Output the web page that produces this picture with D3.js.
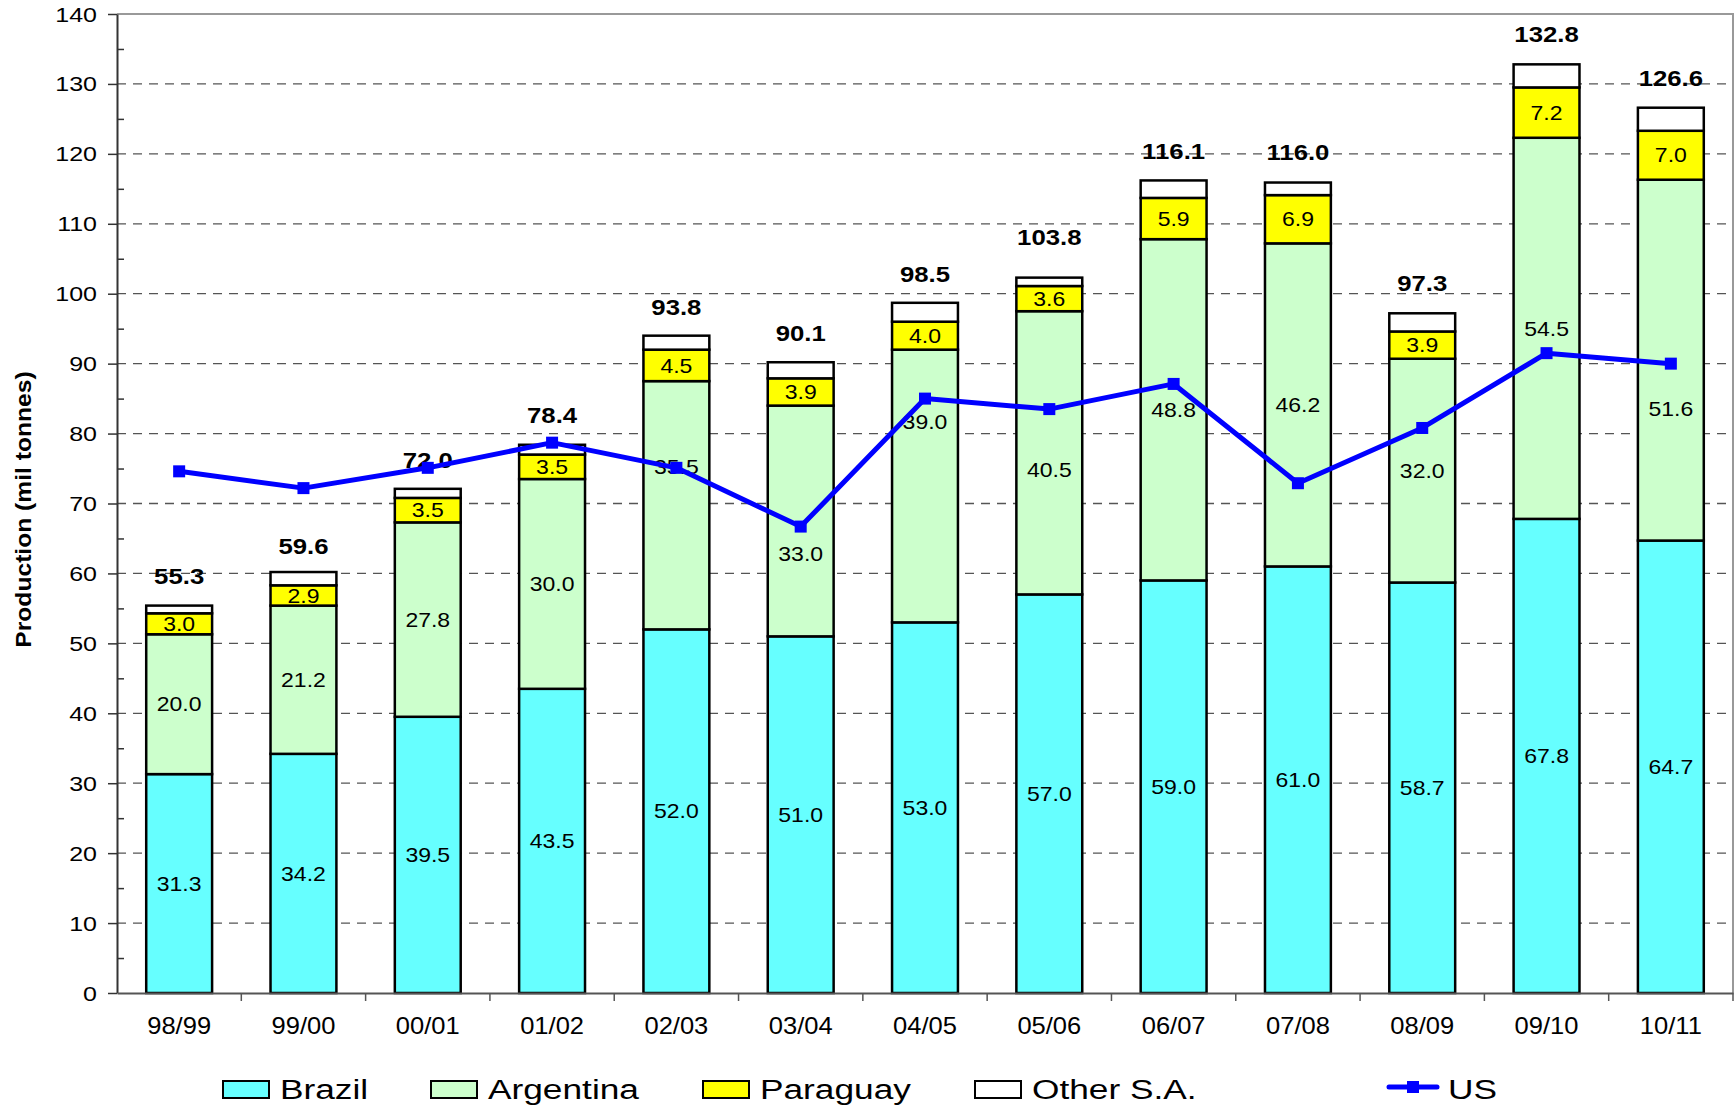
<!DOCTYPE html>
<html>
<head>
<meta charset="utf-8">
<script src="https://cdn.jsdelivr.net/npm/d3@7"></script>
<style>
  body { margin: 0; background: #fff; }
  text { font-family: "Liberation Sans", Arial, sans-serif; fill: #000; }
</style>
</head>
<body>
<script>

var seasons = ["98/99", "99/00", "00/01", "01/02", "02/03", "03/04", "04/05",
               "05/06", "06/07", "07/08", "08/09", "09/10", "10/11"],
    brazil    = [31.3, 34.2, 39.5, 43.5, 52.0, 51.0, 53.0, 57.0, 59.0, 61.0, 58.7, 67.8, 64.7],
    argentina = [20.0, 21.2, 27.8, 30.0, 35.5, 33.0, 39.0, 40.5, 48.8, 46.2, 32.0, 54.5, 51.6],
    paraguay  = [3.0, 2.9, 3.5, 3.5, 4.5, 3.9, 4.0, 3.6, 5.9, 6.9, 3.9, 7.2, 7.0],
    otherSA   = [1.1, 1.9, 1.3, 1.4, 2.0, 2.3, 2.7, 1.2, 2.5, 1.8, 2.6, 3.3, 3.3],
    totals    = [55.3, 59.6, 72.0, 78.4, 93.8, 90.1, 98.5, 103.8, 116.1, 116.0, 97.3, 132.8, 126.6],
    us        = [74.6, 72.2, 75.1, 78.7, 75.1, 66.7, 85.0, 83.5, 87.1, 72.9, 80.8, 91.5, 90.0],
    seriesNames = ["Brazil", "Argentina", "Paraguay", "Other S.A."],
    seriesColors = ["#66ffff", "#ccffcc", "#ffff00", "#ffffff"],
    yTicks = [0, 10, 20, 30, 40, 50, 60, 70, 80, 90, 100, 110, 120, 130, 140];

// some Argentina labels were moved by hand in the original (pixels, + = down)
var argNudge = [0, 0, 0, 0, -38, 33, -64, 17, 0, 0, 0, 0, 49];

var W = 1736, H = 1106,
    lPad = 117, rPad = 3, tPad = 14, bPad = 113,
    stretch = 1.17;   // the original text is wider than normal

var svg = d3.select("body").append("svg")
    .attr("width", W)
    .attr("height", H);

var xScale = d3.scaleBand().domain(seasons).range([lPad, W - rPad]).padding(0),
    yScale = d3.scaleLinear().domain([0, 140]).range([H - bPad, tPad]),
    barW = xScale.bandwidth() * 0.53;

function cx(d) { return xScale(d) + xScale.bandwidth() / 2; }

// rows for the stack
var rows = seasons.map(function(s, i) {
    return { season: s, "Brazil": brazil[i], "Argentina": argentina[i],
             "Paraguay": paraguay[i], "Other S.A.": otherSA[i] };
});
var stacked = d3.stack().keys(seriesNames)(rows);

// grid lines
svg.append("g").selectAll("line")
    .data(yTicks.filter(function(t) { return t > 0 && t < 140; }))
    .enter().append("line")
    .attr("x1", lPad).attr("x2", W - rPad)
    .attr("y1", function(d) { return yScale(d); })
    .attr("y2", function(d) { return yScale(d); })
    .style("stroke", "#555")
    .style("stroke-width", 1.3)
    .style("stroke-dasharray", "9,7");

// top and right border
svg.append("path")
    .attr("d", "M" + lPad + "," + yScale(140) + "H" + (W - rPad) + "V" + yScale(0))
    .style("fill", "none")
    .style("stroke", "#999")
    .style("stroke-width", 2);

// bars
var layer = svg.append("g").selectAll("g")
    .data(stacked)
    .enter().append("g")
    .style("fill", function(d, i) { return seriesColors[i]; });

layer.selectAll("rect")
    .data(function(d) { return d; })
    .enter().append("rect")
    .attr("x", function(d) { return cx(d.data.season) - barW / 2; })
    .attr("y", function(d) { return yScale(d[1]); })
    .attr("width", barW)
    .attr("height", function(d) { return yScale(d[0]) - yScale(d[1]); })
    .style("stroke", "#000")
    .style("stroke-width", 2.5);

// segment labels (Brazil, Argentina, Paraguay)
stacked.slice(0, 3).forEach(function(series, k) {
    svg.append("g").selectAll("text")
        .data(series)
        .enter().append("text")
        .attr("transform", function(d, i) {
            var nudge = k == 1 ? argNudge[i] : 0;
            return "translate(" + cx(d.data.season) + "," + (yScale((d[0] + d[1]) / 2) + 7.2 + nudge) + ") scale(1.15,1)";
        })
        .attr("text-anchor", "middle")
        .style("font-size", "20px")
        .text(function(d) { return (d[1] - d[0]).toFixed(1); });
});

// totals
svg.append("g").selectAll("text")
    .data(totals)
    .enter().append("text")
    .attr("transform", function(d, i) {
        return "translate(" + cx(seasons[i]) + "," + (yScale(d) - 22) + ") scale(" + stretch + ",1)";
    })
    .attr("text-anchor", "middle")
    .style("font-size", "22px")
    .style("font-weight", "bold")
    .text(function(d) { return d.toFixed(1); });

// y axis
var yAxis = d3.axisLeft(yScale).tickValues(yTicks).tickSize(9).tickSizeOuter(0);
var gy = svg.append("g")
    .attr("transform", "translate(" + lPad + ",0)")
    .call(yAxis);
gy.select(".domain").style("stroke", "#333").style("stroke-width", 2);
gy.selectAll(".tick line").style("stroke", "#333").style("stroke-width", 1.5);
gy.selectAll(".tick text")
    .attr("x", -20 / 1.25)
    .attr("dy", "0.35em")
    .attr("transform", "scale(1.25,1)")
    .style("font-size", "20px")
    .style("font-family", "'Liberation Sans', Arial, sans-serif");

// minor ticks inside
var gyMinor = svg.append("g")
    .attr("transform", "translate(" + lPad + ",0)")
    .call(d3.axisRight(yScale).tickValues(d3.range(5, 140, 10)).tickSize(7).tickFormat(""));
gyMinor.select(".domain").remove();
gyMinor.selectAll(".tick line").style("stroke", "#333").style("stroke-width", 1.5);

// x axis
var gx = svg.append("g")
    .attr("transform", "translate(0," + yScale(0) + ")")
    .call(d3.axisBottom(xScale).tickSize(0).tickSizeOuter(0).tickPadding(0));
gx.select(".domain").style("stroke", "#555").style("stroke-width", 2);
gx.selectAll(".tick text")
    .attr("y", 0)
    .attr("dy", 41)
    .attr("transform", "scale(1.11,1)")
    .attr("x", 0)
    .style("font-size", "23px")
    .style("font-family", "'Liberation Sans', Arial, sans-serif");

// category boundary ticks
gx.selectAll("line.bound")
    .data(seasons)
    .enter().append("line")
    .attr("class", "bound")
    .attr("x1", function(d) { return xScale(d) + xScale.step(); })
    .attr("x2", function(d) { return xScale(d) + xScale.step(); })
    .attr("y1", 0).attr("y2", 8)
    .style("stroke", "#555")
    .style("stroke-width", 1.5);

// y axis title
svg.append("text")
    .attr("transform", "translate(31," + ((tPad + H - bPad) / 2 + 6) + ") rotate(-90) scale(1.12,1)")
    .attr("text-anchor", "middle")
    .style("font-size", "22px")
    .style("font-weight", "bold")
    .text("Production (mil tonnes)");

// US line
var line = d3.line()
    .x(function(d, i) { return cx(seasons[i]); })
    .y(function(d) { return yScale(d); });

svg.append("path")
    .datum(us)
    .attr("d", line)
    .style("fill", "none")
    .style("stroke", "#0000ff")
    .style("stroke-width", 5)
    .style("stroke-linejoin", "round");

svg.append("g").selectAll("rect")
    .data(us)
    .enter().append("rect")
    .attr("x", function(d, i) { return cx(seasons[i]) - 6; })
    .attr("y", function(d) { return yScale(d) - 6; })
    .attr("width", 12)
    .attr("height", 12)
    .style("fill", "#0000ff");

// legend
var legendX = [223, 431, 703, 975],
    legendY = 1081;
seriesNames.forEach(function(name, i) {
    svg.append("rect")
        .attr("x", legendX[i])
        .attr("y", legendY)
        .attr("width", 46)
        .attr("height", 17)
        .style("fill", seriesColors[i])
        .style("stroke", "#000")
        .style("stroke-width", 2);
    svg.append("text")
        .attr("transform", "translate(" + (legendX[i] + 57) + "," + (legendY + 18) + ") scale(1.26,1)")
        .style("font-size", "28px")
        .text(name);
});
svg.append("line")
    .attr("x1", 1389).attr("x2", 1437)
    .attr("y1", 1087).attr("y2", 1087)
    .style("stroke", "#0000ff")
    .style("stroke-width", 5)
    .style("stroke-linecap", "round");
svg.append("rect")
    .attr("x", 1407).attr("y", 1081)
    .attr("width", 12).attr("height", 12)
    .style("fill", "#0000ff");
svg.append("text")
    .attr("transform", "translate(1448," + (legendY + 18) + ") scale(1.26,1)")
    .style("font-size", "28px")
    .text("US");

</script>
</body>
</html>
